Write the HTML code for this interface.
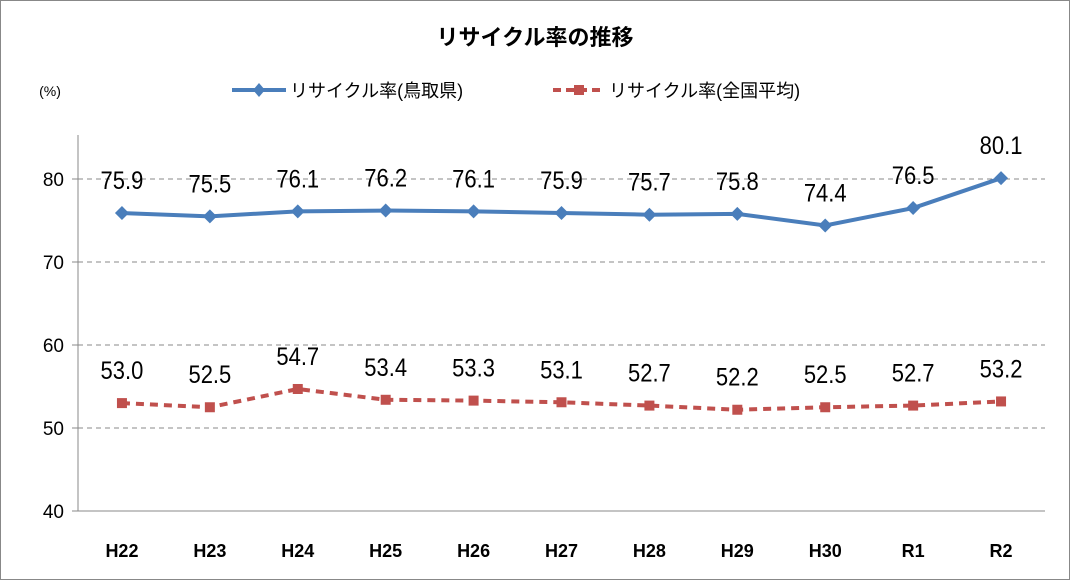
<!DOCTYPE html>
<html><head><meta charset="utf-8"><style>
body{margin:0;background:#fff}
svg{display:block}
.t{font-family:"Liberation Sans","Noto Sans CJK JP",sans-serif}
</style></head><body>
<svg width="1070" height="580">
<rect x="0.5" y="0.5" width="1069" height="579" fill="#fff" stroke="#888"/>
<text class="t" x="535" y="45" text-anchor="middle" font-size="22" font-weight="bold" fill="#000">リサイクル率の推移</text>
<text class="t" x="50" y="96" text-anchor="middle" font-size="14" fill="#000">(%)</text>
<g>
<line x1="232" y1="90" x2="286" y2="90" stroke="#4a7ebb" stroke-width="4"/>
<path d="M259 83 L265 90 L259 97 L253 90Z" fill="#4a7ebb"/>
<text class="t" x="290" y="97" font-size="18" fill="#000">リサイクル率(鳥取県)</text>
</g>
<g>
<line x1="553" y1="90" x2="605" y2="90" stroke="#c0504d" stroke-width="4" stroke-dasharray="8,5"/>
<rect x="574" y="85" width="10" height="10" fill="#c0504d"/>
<text class="t" x="609" y="97" font-size="18" fill="#000">リサイクル率(全国平均)</text>
</g>
<g id="grid"></g><g id="axes"></g><g id="series"></g>
</svg>
<script>
const categories=["H22","H23","H24","H25","H26","H27","H28","H29","H30","R1","R2"];
const tottori=[75.9,75.5,76.1,76.2,76.1,75.9,75.7,75.8,74.4,76.5,80.1];
const national=[53.0,52.5,54.7,53.4,53.3,53.1,52.7,52.2,52.5,52.7,53.2];
const yTicks=[40,50,60,70,80];
const NS="http://www.w3.org/2000/svg";
const X0=78,X1=1045,Y0=511,YMIN=40,PPU=8.3;
const bw=(X1-X0)/categories.length;
const xs=i=>X0+bw*(i+0.5);
const ys=v=>Y0-(v-YMIN)*PPU;
function mk(tag,attrs,parent,txt){const e=document.createElementNS(NS,tag);for(const k in attrs)e.setAttribute(k,attrs[k]);if(txt!==undefined)e.textContent=txt;parent.appendChild(e);return e;}
const grid=document.getElementById('grid'),axes=document.getElementById('axes'),ser=document.getElementById('series');
yTicks.forEach(v=>{
 const y=ys(v);
 if(v>YMIN){const l=mk('line',{x1:X0,x2:X1,y1:y,y2:y,stroke:'#888','stroke-width':1,'stroke-dasharray':'5,4'},grid);
 
 }
 mk('line',{x1:X0-6,x2:X0,y1:y,y2:y,stroke:'#888'},axes);
 const t=mk('text',{x:X0-14,y:y+7,'text-anchor':'end','font-size':19,class:'t'},axes,String(v));
 
 
});
const ya=mk('line',{x1:X0,x2:X0,y1:135,y2:Y0,stroke:'#888'},axes);


const xa=mk('line',{x1:X0,x2:X1,y1:Y0,y2:Y0,stroke:'#888'},axes);


categories.forEach((c,i)=>{
 const t=mk('text',{x:xs(i),y:557,'text-anchor':'middle','font-size':18,'font-weight':'bold',class:'t'},axes,c);
 
 
});
function series(vals,color,dash,marker,name){
 const d=vals.map((v,i)=>(i?'L':'M')+xs(i)+' '+ys(v)).join(' ');
 const p=mk('path',{d:d,fill:'none',stroke:color,'stroke-width':4,'stroke-dasharray':dash},ser);
 
 
 vals.forEach((v,i)=>{
  const x=xs(i),y=ys(v);let m;
  if(marker==='d')m=mk('path',{d:`M${x} ${y-7}L${x+7} ${y}L${x} ${y+7}L${x-7} ${y}Z`,fill:color},ser);
  else m=mk('rect',{x:x-5,y:y-5,width:10,height:10,fill:color},ser);
  
  
  const t=mk('text',{x:x,y:y-24,'text-anchor':'middle','font-size':25,class:'t',transform:`translate(${x} 0) scale(0.88 1) translate(${-x} 0)`},ser,v.toFixed(1));
  
  
 });
}
series(tottori,'#4a7ebb','none','d','tottori');
series(national,'#c0504d','8,6','s','national');
</script>
</body></html>
